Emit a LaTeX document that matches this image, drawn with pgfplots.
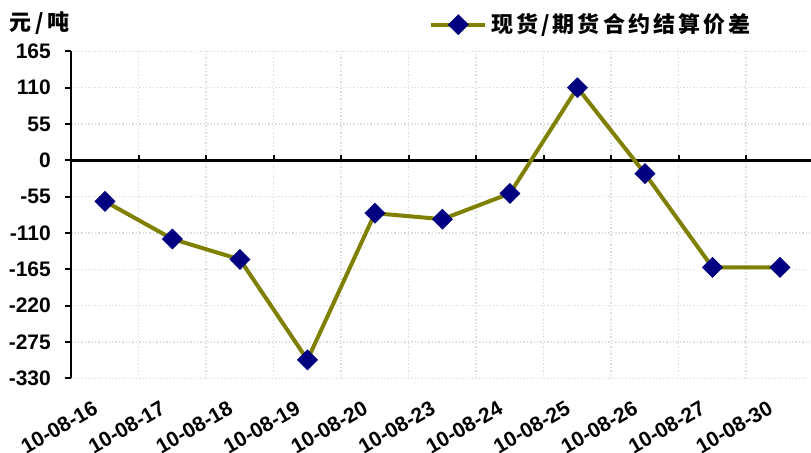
\documentclass[border=0pt]{standalone}
\usepackage{fontspec}
\setmainfont{Liberation Sans}
\newfontfamily\cjk{Noto Sans CJK SC}[LetterSpace=14]
\usepackage{pgfplots}
\pgfplotsset{compat=1.18}
\definecolor{linec}{HTML}{808000}
\definecolor{markc}{HTML}{000080}
\definecolor{gridc}{HTML}{DCDCDC}

\begin{document}
\begin{tikzpicture}
\useasboundingbox (0,0) rectangle (405.5pt,226.5pt);
\begin{axis}[
  at={(35.6pt,37.3pt)}, anchor=south west,
  scale only axis, width=371.25pt, height=163.5pt,
  xmin=-0.5, xmax=10.5, ymin=-330, ymax=165,
  axis x line=bottom, axis y line=left,
  x axis line style={draw=none},
  y axis line style={-, line width=1pt, black},
  xtick={0,...,10},
  xticklabels={10-08-16,10-08-17,10-08-18,10-08-19,10-08-20,10-08-23,10-08-24,10-08-25,10-08-26,10-08-27,10-08-30},
  minor xtick={0.5,1.5,...,9.5},
  ytick={-330,-275,...,165},
  xminorgrids=true, ymajorgrids=true,
  major grid style={gridc, line width=0.7pt, densely dotted},
  minor grid style={gridc, line width=0.7pt, densely dotted},
  major x tick style={draw=none}, minor x tick style={draw=none},
  ytick style={black, line width=1pt},
  tick align=outside, major tick length=3pt,
  /pgf/number format/assume math mode=true,
  yticklabel style={font=\bfseries\fontsize{10.5}{12}\selectfont,
    anchor=east, inner ysep=0pt, inner xsep=7pt},
  xticklabel style={font=\bfseries\fontsize{10.5}{12}\selectfont,
    xshift=-6.5pt, yshift=-7.5pt, rotate=30, anchor=north east, inner sep=0pt},
  legend style={at={(0.4818,1.0817)}, anchor=west, draw=none, fill=none,
    inner sep=0pt, column sep=2pt, nodes={inner sep=0pt},
    font=\cjk\bfseries\fontsize{11}{13}\selectfont},
  legend image code/.code={
    \draw[#1, mark=none] (0pt,0pt) -- (27pt,0pt);
    \draw[#1] plot coordinates {(13.5pt,0pt)};
  },
]
% zero line with its small upward ticks between categories
\draw[black, line width=1.3pt] (axis cs:-0.5,0) -- (axis cs:10.5,0);
\pgfplotsinvokeforeach{0.5,1.5,...,9.5}{
  \draw[black, line width=1pt] (axis cs:#1,0) -- ++(0pt,2.5pt);
}
\addplot[linec, line width=2pt, mark=square*, mark size=3.5pt,
  mark options={color=markc, line width=0.4pt, rotate=45}]
  coordinates {(0,-62) (1,-119) (2,-150) (3,-302) (4,-80) (5,-89)
    (6,-50) (7,110) (8,-20) (9,-162) (10,-162)};
\addlegendentry{现货\hspace{1.5pt}/\hspace{1.5pt}期货合约结算价差}
\end{axis}
\node[anchor=west, inner sep=0pt, font=\cjk\bfseries\fontsize{11}{13}\selectfont]
  at (4.5pt,215.15pt) {元\hspace{2pt}/\hspace{2pt}吨};
\end{tikzpicture}
\end{document}
